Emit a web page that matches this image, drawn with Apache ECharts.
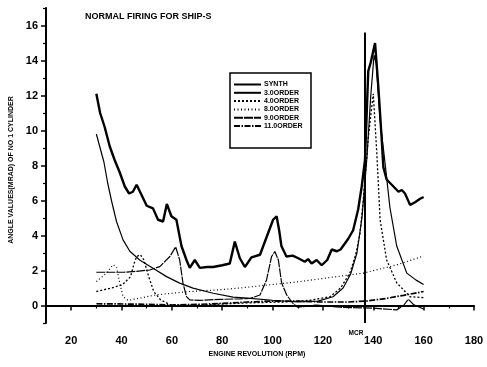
<!DOCTYPE html>
<html>
<head>
<meta charset="utf-8">
<script src="https://cdn.jsdelivr.net/npm/echarts@6/dist/echarts.min.js"></script>
<style>html,body{margin:0;padding:0;background:#fff;}#c{width:487px;height:367px;}</style>
</head>
<body>
<div id="c"></div>
<script>
// ---- data (rpm, angle value mrad) ----
var seriesNames = ['SYNTH', '3.0ORDER', '4.0ORDER', '8.0ORDER', '9.0ORDER', '11.0ORDER'];
var xTickLabels = [20, 40, 60, 80, 100, 120, 140, 160, 180];
var xMinorTicks = [30, 50, 70, 90, 110, 130, 150, 170];
var yTickLabels = [0, 2, 4, 6, 8, 10, 12, 14, 16];
var yMinorTicks = [-1, 1, 3, 5, 7, 9, 11, 13, 15, 17];

var synthData = [[30,12.1],[31.5,11.0],[33.3,10.2],[35.3,9.1],[37.3,8.3],[39.3,7.6],[41.3,6.8],[43,6.4],[44.5,6.5],[46,6.9],[48,6.3],[50,5.7],[52.5,5.55],[54.5,4.9],[56.5,4.8],[58,5.8],[59.8,5.1],[61.8,4.9],[63.8,3.4],[65.8,2.6],[67.1,2.15],[69.1,2.6],[71.1,2.15],[74,2.2],[76.4,2.2],[80,2.3],[83,2.4],[85,3.65],[87,2.7],[89,2.2],[91.6,2.75],[95,2.9],[97.6,3.9],[100.2,4.9],[101.6,5.1],[102.6,4.3],[103.5,3.4],[105.5,2.8],[108,2.85],[110.2,2.7],[112.8,2.5],[114.1,2.65],[115.5,2.4],[117.5,2.6],[119.5,2.3],[121.7,2.6],[123.5,3.2],[125.5,3.1],[127,3.2],[130,3.8],[132,4.3],[134,5.5],[135.4,6.8],[136.7,8.3],[138,13.4],[139,13.9],[140.7,15.0],[142,12.5],[143.3,9.6],[144,7.9],[145.3,7.2],[148,6.8],[150,6.5],[151.3,6.6],[152.6,6.4],[154.6,5.75],[156.6,5.9],[158.6,6.1],[160,6.2]];
var order3Data = [[30,9.8],[31.5,9.0],[33,8.2],[34.5,7.0],[36,6.0],[38,4.8],[40.6,3.75],[43.3,3.1],[47.2,2.6],[52.5,2.13],[57.9,1.65],[63.1,1.28],[68.4,0.99],[76.4,0.7],[84.3,0.48],[90,0.42],[100,0.3],[110,0.2],[118,0.25],[124,0.5],[128,1.0],[131,1.8],[133.5,3.0],[135.5,5.0],[137.5,8.5],[139,12.0],[140.3,14.3],[141.2,13.8],[142.7,10.6],[144.7,8.1],[146.6,5.6],[149.3,3.4],[153.3,1.85],[157,1.45],[160,1.2]];
var order4Data = [[30,0.8],[33,0.9],[36,1.0],[40.3,1.18],[43.6,1.65],[45,2.4],[46,2.8],[47.5,2.9],[48.9,2.6],[50.8,1.65],[52.8,0.8],[55.5,0.32],[59.4,0.04],[65,0.0],[75,0.05],[90,0.15],[105,0.2],[115,0.3],[122.8,0.5],[127,1.0],[130.7,1.85],[133,2.9],[134.7,4.1],[136,6.0],[138,9.6],[140,12.1],[140.4,12.2],[141.4,8.7],[142.7,4.9],[145.3,2.6],[149.3,1.3],[154.6,0.5],[160,0.45]];
var order8Data = [[30,1.37],[32,1.6],[34,1.85],[36.6,2.32],[38,2.2],[39.3,1.28],[40.6,0.51],[42.6,0.29],[47.2,0.42],[53.9,0.61],[60,0.7],[67.1,0.8],[79,0.9],[87,1.0],[100,1.2],[110,1.35],[122.8,1.6],[136,1.85],[149.3,2.32],[160,2.83]];
var order9Data = [[30,1.9],[35,1.9],[40.9,1.9],[46,1.95],[51.2,2.03],[55.2,2.22],[59.2,2.8],[61.5,3.35],[63.1,2.6],[64.4,1.28],[65.8,0.51],[67.1,0.32],[71.1,0.29],[79,0.35],[87,0.38],[91,0.4],[95,0.6],[97.6,1.46],[99.6,2.8],[100.9,3.08],[102.3,2.6],[103.6,1.28],[105.6,0.6],[108.2,0.1],[110,-0.1],[113,-0.05],[117.4,0.03],[127,-0.1],[140,-0.15],[149.3,-0.25],[152,0.0],[153.9,0.36],[156,0.05],[160,-0.2]];
var order11Data = [[30,0.1],[45,0.08],[60,0.03],[70,0.06],[80,0.12],[90,0.2],[100,0.25],[110,0.25],[120,0.2],[130,0.2],[137,0.25],[145,0.4],[152,0.58],[160,0.8]];
var mcrRpm = 136.7;
var mcrLine = [[mcrRpm, -1], [mcrRpm, 15.6]];

var FONT = '"Liberation Sans", Arial, sans-serif';
var chart = echarts.init(document.getElementById('c'), null, {renderer: 'canvas'});

function line(name, data, width, type) {
  return {
    name: name, type: 'line', data: data, symbol: 'none', smooth: false,
    lineStyle: {color: '#000', width: width, type: type},
    itemStyle: {color: '#000'},
    z: 3, silent: true, animation: false
  };
}

var option = {
  backgroundColor: '#fff',
  animation: false,
  title: {
    text: 'NORMAL FIRING FOR SHIP-S', left: 85, top: 12, padding: 0,
    textStyle: {fontFamily: FONT, fontSize: 9, fontWeight: 'bold', color: '#000'}
  },
  grid: {left: 46, right: 13, top: 8, bottom: 44, containLabel: false, outerBoundsMode: 'none'},
  legend: {
    data: seriesNames, orient: 'vertical', left: 233, top: 81,
    itemWidth: 27, itemHeight: 6, itemGap: 1.3, padding: 0,
    itemStyle: {opacity: 0},
    textStyle: {fontFamily: FONT, fontSize: 7, fontWeight: 'bold', color: '#000', padding: [0, 0, 0, -2]},
    selectedMode: false
  },
  xAxis: [{
    type: 'value', min: 10, max: 180,
    axisLine: {show: true, lineStyle: {color: '#000', width: 2}},
    axisTick: {show: true, customValues: xTickLabels, length: 5, lineStyle: {color: '#000', width: 1.5}},
    axisLabel: {customValues: xTickLabels, margin: 12, fontFamily: FONT, fontSize: 11, fontWeight: 'bold', color: '#000'},
    splitLine: {show: false},
    name: 'ENGINE REVOLUTION (RPM)', nameLocation: 'middle', nameGap: 24,
    nameTextStyle: {fontFamily: FONT, fontSize: 7, fontWeight: 'bold', color: '#000', padding: [0, 0, 0, -6]}
  }, {
    type: 'value', min: 10, max: 180, position: 'bottom',
    axisLine: {show: false},
    axisTick: {show: true, customValues: xMinorTicks, length: 3, lineStyle: {color: '#000', width: 1.2}},
    axisLabel: {show: false}, splitLine: {show: false}
  }],
  yAxis: [{
    type: 'value', min: -1, max: 17,
    axisLine: {show: true, lineStyle: {color: '#000', width: 2}},
    axisTick: {show: true, customValues: yTickLabels, length: 5, lineStyle: {color: '#000', width: 1.5}},
    axisLabel: {customValues: yTickLabels, margin: 8, fontFamily: FONT, fontSize: 11, fontWeight: 'bold', color: '#000'},
    splitLine: {show: false},
    name: 'ANGLE VALUES(MRAD) OF NO 1 CYLINDER', nameLocation: 'middle', nameGap: 31, nameRotate: 90,
    nameTextStyle: {fontFamily: FONT, fontSize: 7, fontWeight: 'bold', color: '#000', padding: [0, 0, 0, -9]}
  }, {
    type: 'value', min: -1, max: 17, position: 'left',
    axisLine: {show: false},
    axisTick: {show: true, customValues: yMinorTicks, length: 3, lineStyle: {color: '#000', width: 1.2}},
    axisLabel: {show: false}, splitLine: {show: false}
  }],
  graphic: [{
    type: 'rect', shape: {x: 230, y: 73, width: 81, height: 75},
    style: {fill: 'none', stroke: '#000', lineWidth: 1.5}, z: 10, silent: true
  }],
  series: [
    line('SYNTH', synthData, 2.4, 'solid'),
    line('3.0ORDER', order3Data, 1.2, 'solid'),
    line('4.0ORDER', order4Data, 1.3, [2, 2]),
    line('8.0ORDER', order8Data, 1.2, [1, 2.5]),
    line('9.0ORDER', order9Data, 1.2, [9, 1]),
    line('11.0ORDER', order11Data, 1.7, [6, 1.5, 1.5, 1.5]),
    {
      name: 'MCR', type: 'line', data: [
        {value: mcrLine[0], label: {show: true, formatter: 'MCR', position: 'bottom', offset: [-9, 2],
          fontFamily: FONT, fontSize: 6.5, fontWeight: 'bold', color: '#000'}},
        {value: mcrLine[1]}
      ],
      symbol: 'circle', symbolSize: 0,
      lineStyle: {color: '#000', width: 2}, itemStyle: {color: '#000'},
      z: 4, silent: true, animation: false
    }
  ]
};
chart.setOption(option);
</script>
</body>
</html>
